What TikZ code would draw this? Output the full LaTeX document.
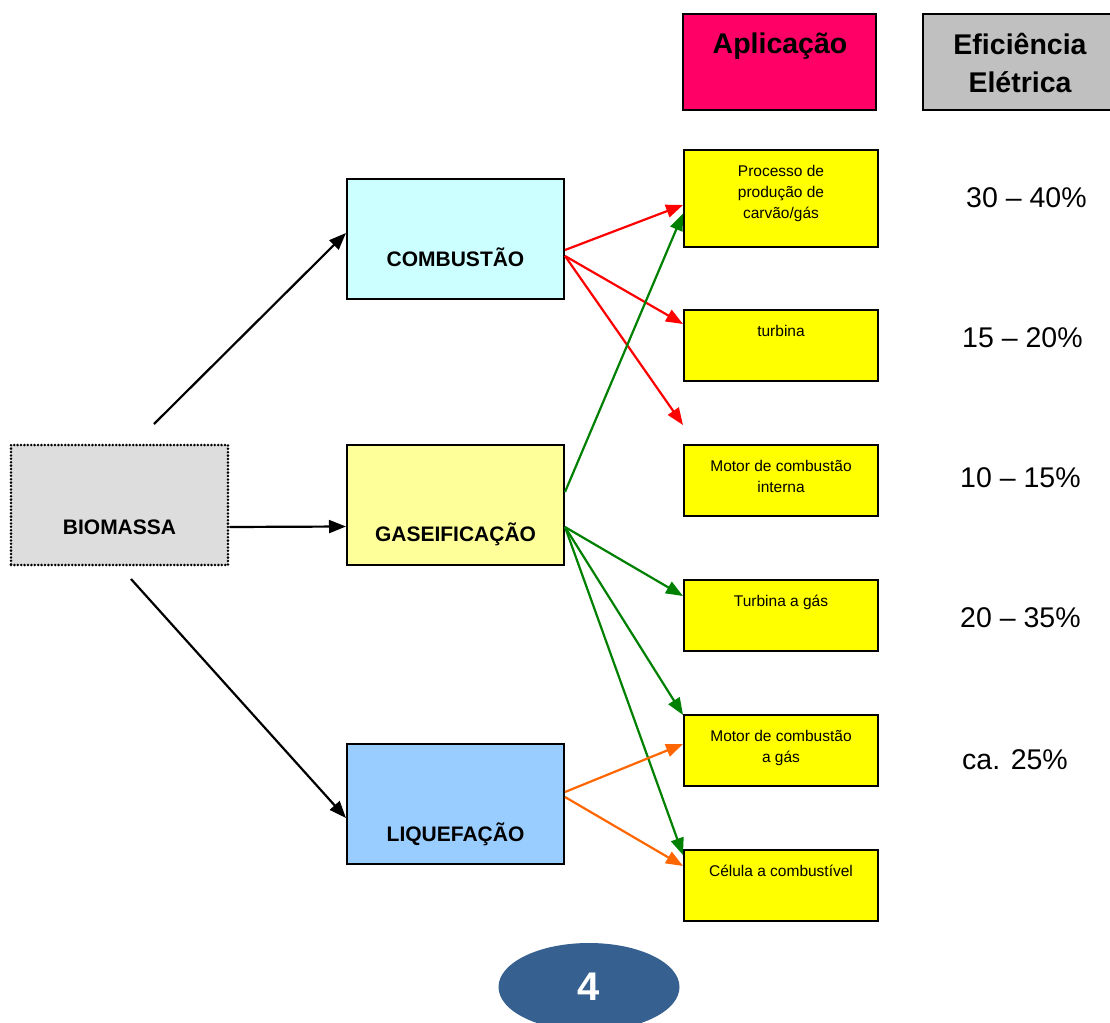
\documentclass[tikz,border=0pt]{standalone}
\usepackage{fontspec}
\setmainfont{Liberation Sans}
\usetikzlibrary{arrows.meta,calc,shapes.geometric}

\definecolor{biogray}{HTML}{DDDDDD}
\definecolor{combcyan}{HTML}{CCFFFF}
\definecolor{gaspale}{HTML}{FFFF99}
\definecolor{liqblue}{HTML}{99CCFF}
\definecolor{appmagenta}{HTML}{FF0066}
\definecolor{effgray}{HTML}{C0C0C0}
\definecolor{appyellow}{HTML}{FFFF00}
\definecolor{pageblue}{HTML}{35608F}
\definecolor{linkred}{HTML}{FF0000}
\definecolor{linkgreen}{HTML}{008000}
\definecolor{linkorange}{HTML}{FF6600}

\begin{document}
\begin{tikzpicture}[x=1pt,y=-1pt,
  bigbox/.style={draw=black, line width=2pt, minimum width=217pt, minimum height=120pt, inner sep=0pt},
  bigtxt/.style={font=\fontsize{21}{24}\selectfont\bfseries, inner sep=0pt},
  headbox/.style={draw=black, line width=2pt, minimum height=96pt, inner sep=0pt},
  headtxt/.style={font=\fontsize{28.5}{38}\selectfont\bfseries, align=center, inner sep=0pt},
  appbox/.style={draw=black, line width=2pt, fill=appyellow, minimum width=194pt, minimum height=71pt, inner sep=0pt},
  apptxt/.style={font=\fontsize{15.5}{21}\selectfont, align=center, inner sep=0pt, anchor=north},
  efftxt/.style={font=\fontsize{28.5}{34}\selectfont, inner sep=0pt, anchor=west},
  link/.style={line width=2.2pt, -{Triangle[length=17pt,width=13pt]}},
]
\useasboundingbox (0,0) rectangle (1110,1022);

% source
\node[bigbox, fill=biogray, draw=black, line width=2.8pt, line cap=round,
      dash pattern=on 0pt off 3.4pt] (bio) at (119.5,505) {};
\node[bigtxt] (biot) at ($(bio.center)+(0,22)$) {BIOMASSA};

% conversion routes
\node[bigbox, fill=combcyan] (comb) at (455.5,239) {};
\node[bigtxt] (combt) at ($(comb.center)+(0,18)$) {COMBUSTÃO};
\node[bigbox, fill=gaspale] (gas) at (455.5,504.5) {};
\node[bigtxt] (gast) at ($(gas.center)+(0,29.5)$) {GASEIFICAÇÃO};
\node[bigbox, fill=liqblue] (liq) at (455.5,803.5) {};
\node[bigtxt] (liqt) at ($(liq.center)+(0,30.5)$) {LIQUEFAÇÃO};

% column headers
\node[headbox, fill=appmagenta, minimum width=193pt] (app) at (779.5,62) {};
\node[headtxt] (appt) at (780,46) {Aplicação};
\node[headbox, fill=effgray, minimum width=189pt] (eff) at (1017.5,62) {};
\node[headtxt] (efft) at (1020,63) {Eficiência\\Elétrica};

% applications
\node[appbox, minimum height=97pt] (a1) at (781,198.5) {};
\node[appbox] (a2) at (781,345.5) {};
\node[appbox] (a3) at (781,480.5) {};
\node[appbox] (a4) at (781,615.5) {};
\node[appbox] (a5) at (781,750.5) {};
\node[appbox] (a6) at (781,885.5) {};
\node[apptxt] (a1t) at ($(a1.north)+(0,16)$) {Processo de\\produção de\\carvão/gás};
\node[apptxt] (a2t) at ($(a2.north)+(0,16)$) {turbina};
\node[apptxt] (a3t) at ($(a3.north)+(0,16)$) {Motor de combustão\\interna};
\node[apptxt] (a4t) at ($(a4.north)+(0,16)$) {Turbina a gás};
\node[apptxt] (a5t) at ($(a5.north)+(0,16)$) {Motor de combustão\\a gás};
\node[apptxt] (a6t) at ($(a6.north)+(0,16)$) {Célula a combustível};

% electrical efficiencies
\node[efftxt] (e1) at (966,198) {30 – 40\%};
\node[efftxt] (e2) at (962,338) {15 – 20\%};
\node[efftxt] (e3) at (960,478) {10 – 15\%};
\node[efftxt] (e4) at (960,618) {20 – 35\%};
\node[efftxt] (e5) at (962,760) {ca. 25\%};

% page marker
\node[ellipse, fill=pageblue, minimum width=181pt, minimum height=88pt, inner sep=0pt,
      text=white, font=\fontsize{40}{40}\selectfont\bfseries] (page) at (589,987) {4};

% loose ends
\coordinate (biotop) at (154,424);
\coordinate (biobot) at (131,579);
\coordinate (freeend) at (683,425);

% from biomass
\draw[link, black] (biotop) -- ($(comb.west)+(0,-6)$);
\draw[link, black] ($(bio.east)+(0,22)$) -- ($(gas.west)+(0,22)$);
\draw[link, black] (biobot) -- ($(liq.west)+(0,14.5)$);

% combustion
\draw[link, linkred] ($(comb.east)+(0,11)$) -- ($(a1.west)+(0,6.5)$);
\draw[link, linkred] ($(comb.east)+(0,17)$) -- ($(a2.north west)+(0,15)$);
\draw[link, linkred] ($(comb.east)+(0,17)$) -- (freeend);

% gasification
\draw[link, linkgreen] ($(gas.east)+(0,-12.5)$) -- ($(a1.west)+(0,15)$);
\draw[link, linkgreen] ($(gas.east)+(0,22.5)$) -- ($(a4.north west)+(0,17)$);
\draw[link, linkgreen] ($(gas.east)+(0,22.5)$) -- ($(a5.north west)+(0,1)$);
\draw[link, linkgreen] ($(gas.east)+(0,22.5)$) -- ($(a6.north west)+(0,6)$);

% liquefaction
\draw[link, linkorange] ($(liq.east)+(0,-11.5)$) -- ($(a5.north west)+(0,30)$);
\draw[link, linkorange] ($(liq.east)+(0,-6.5)$) -- ($(a6.north west)+(0,17)$);
\end{tikzpicture}
\end{document}
